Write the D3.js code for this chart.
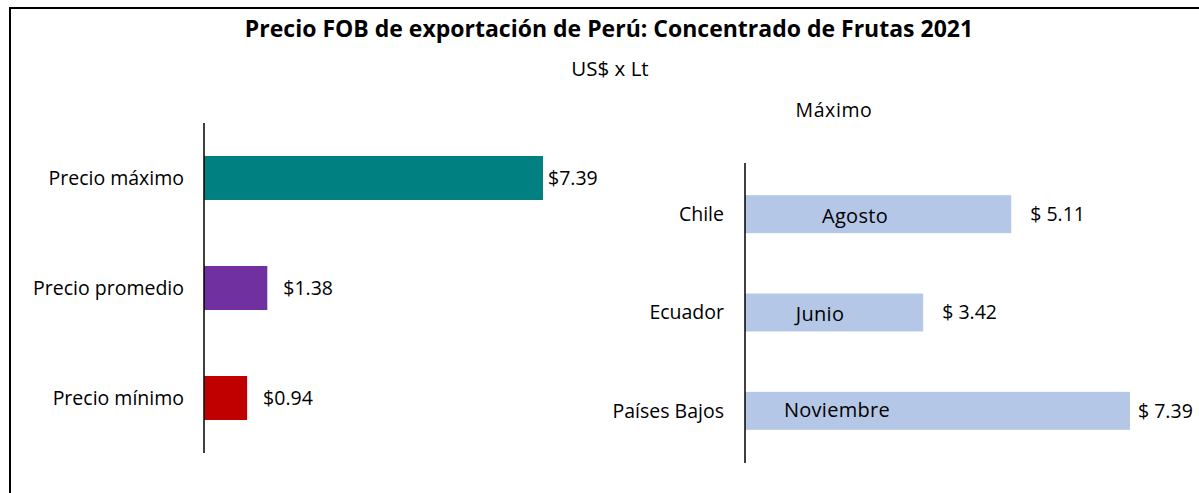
<!DOCTYPE html>
<html>
<head>
<meta charset="utf-8">
<script src="https://cdn.jsdelivr.net/npm/d3@7"></script>
<style>
  body { margin: 0; background: #fff; }
  text { font-family: "Open Sans", "Noto Sans", sans-serif; fill: #000; }
</style>
</head>
<body>
<svg id="chart" width="1199" height="493"></svg>
<script>
// resumen de precios
const priceLabels = ["Precio máximo", "Precio promedio", "Precio mínimo"];
const priceValues = [7.39, 1.38, 0.94];
const priceColors = ["#008080", "#7030a0", "#c00000"];

// precio máximo por país
const countries = ["Chile", "Ecuador", "Países Bajos"];
const countryValues = [5.11, 3.42, 7.39];
const countryMonths = ["Agosto", "Junio", "Noviembre"];

const svg = d3.select("#chart");

// marco
svg.append("path")
  .attr("d", "M10,493 L10,8 L1199,8")
  .attr("fill", "none")
  .attr("stroke", "#000")
  .attr("stroke-width", 2);

svg.append("text")
  .attr("x", 609)
  .attr("y", 37)
  .attr("text-anchor", "middle")
  .style("font-size", "23px")
  .style("font-weight", "bold")
  .text("Precio FOB de exportación de Perú: Concentrado de Frutas 2021");

svg.append("text")
  .attr("x", 610)
  .attr("y", 76)
  .attr("text-anchor", "middle")
  .style("font-size", "20.5px")
  .text("US$ x Lt");

svg.append("text")
  .attr("x", 834)
  .attr("y", 117)
  .attr("text-anchor", "middle")
  .style("font-size", "19.5px")
  .style("letter-spacing", "0.6px")
  .text("Máximo");

// grafico izquierdo
const x1 = d3.scaleLinear().domain([0, 7.39]).range([204, 543]);
const y1 = d3.scaleBand().domain(priceLabels).range([123, 453]).paddingInner(0.6).paddingOuter(0.3);

const left = svg.append("g");

left.selectAll("rect")
  .data(priceValues)
  .enter()
  .append("rect")
  .attr("x", x1(0))
  .attr("y", (d, i) => y1(priceLabels[i]))
  .attr("width", d => x1(d) - x1(0))
  .attr("height", y1.bandwidth())
  .attr("fill", (d, i) => priceColors[i]);

left.selectAll(".val")
  .data(priceValues)
  .enter()
  .append("text")
  .attr("class", "val")
  .attr("x", (d, i) => x1(d) + (i === 0 ? 5 : 16))
  .attr("y", (d, i) => y1(priceLabels[i]) + y1.bandwidth() / 2)
  .attr("dy", "0.35em")
  .style("font-size", "19.5px")
  .text(d => "$" + d.toFixed(2));

left.selectAll(".cat")
  .data(priceLabels)
  .enter()
  .append("text")
  .attr("class", "cat")
  .attr("x", 184)
  .attr("y", d => y1(d) + y1.bandwidth() / 2)
  .attr("dy", "0.35em")
  .attr("text-anchor", "end")
  .style("font-size", "19.5px")
  .text(d => d);

left.append("line")
  .attr("x1", x1(0)).attr("x2", x1(0))
  .attr("y1", 123).attr("y2", 453)
  .attr("stroke", "#000")
  .attr("stroke-width", 1.5);

// grafico derecho
const x2 = d3.scaleLinear().domain([0, 7.39]).range([745, 1130]);
const y2 = d3.scaleBand().domain(countries).range([165, 460]).paddingInner(0.614).paddingOuter(0.307);

const right = svg.append("g");

right.selectAll("rect")
  .data(countryValues)
  .enter()
  .append("rect")
  .attr("x", x2(0))
  .attr("y", (d, i) => y2(countries[i]))
  .attr("width", d => x2(d) - x2(0))
  .attr("height", y2.bandwidth())
  .attr("fill", "#b4c7e7");

const monthShift = [110, 75, 92];
right.selectAll(".mes")
  .data(countryMonths)
  .enter()
  .append("text")
  .attr("class", "mes")
  .attr("x", (d, i) => x2(0) + monthShift[i])
  .attr("y", (d, i) => y2(countries[i]) + y2.bandwidth() / 2)
  .attr("dy", (d, i) => i === 2 ? "0.3em" : "0.42em")
  .attr("text-anchor", "middle")
  .style("font-size", "20px")
  .style("letter-spacing", "0.3px")
  .text(d => d);

right.selectAll(".val")
  .data(countryValues)
  .enter()
  .append("text")
  .attr("class", "val")
  .attr("x", (d, i) => x2(d) + (i === 2 ? 8 : 19))
  .attr("y", (d, i) => y2(countries[i]) + y2.bandwidth() / 2)
  .attr("dy", "0.35em")
  .style("font-size", "19.5px")
  .text(d => "$ " + d.toFixed(2));

right.selectAll(".cat")
  .data(countries)
  .enter()
  .append("text")
  .attr("class", "cat")
  .attr("x", 724)
  .attr("y", d => y2(d) + y2.bandwidth() / 2)
  .attr("dy", "0.35em")
  .attr("text-anchor", "end")
  .style("font-size", "19.5px")
  .text(d => d);

right.append("line")
  .attr("x1", x2(0)).attr("x2", x2(0))
  .attr("y1", 163).attr("y2", 463)
  .attr("stroke", "#000")
  .attr("stroke-width", 1.5);
</script>
</body>
</html>
